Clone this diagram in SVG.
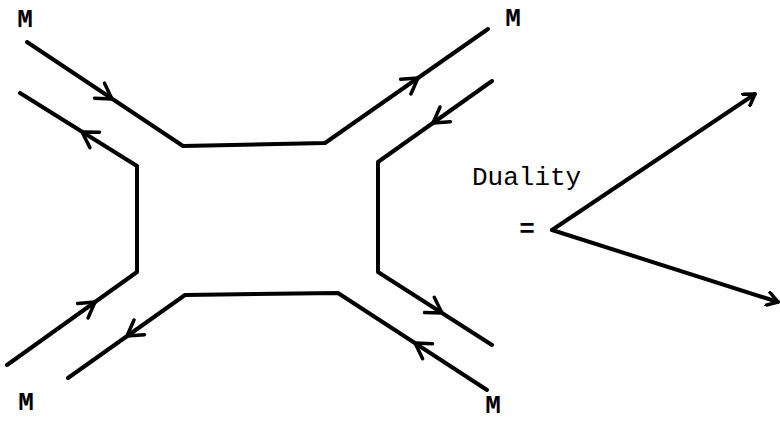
<svg xmlns="http://www.w3.org/2000/svg" width="780" height="422" viewBox="0 0 780 422">
<style>
.ln{fill:none;stroke:#000;stroke-width:4;stroke-linecap:round;stroke-linejoin:round}
.ch{fill:none;stroke:#000;stroke-width:3.5;stroke-linecap:round;stroke-linejoin:round}
.lbl{font-family:"Liberation Mono","DejaVu Sans Mono",monospace;font-size:26px;fill:#000}
.m{font-weight:bold;text-anchor:middle}
</style>
<defs>
<path id="chev" class="ch" d="M-15,-9 L0,0 L-15,9"/>
<marker id="open" viewBox="-12 -8 14 16" markerWidth="14" markerHeight="16" refX="0" refY="0" orient="auto" markerUnits="userSpaceOnUse">
<path d="M-11,-7 L0,0 L-11,7" fill="none" stroke="#000" stroke-width="3.5" stroke-linecap="round" stroke-linejoin="round"/>
</marker>
</defs>
<rect width="780" height="422" fill="#fff"/>
<g id="connectors">
<polyline class="ln" points="27,42 183,146 325,143 488,29"/>
<polyline class="ln" points="20,93 137,166 137,272 7,365"/>
<polyline class="ln" points="492,81 378,162 378,272 492,345"/>
<polyline class="ln" points="68,378 185,295 338,293 487,390"/>
<use href="#chev" transform="translate(112,99) rotate(33.7)"/>
<use href="#chev" transform="translate(418,78) rotate(-35)"/>
<use href="#chev" transform="translate(82,132) rotate(212)"/>
<use href="#chev" transform="translate(95,302) rotate(-35.6)"/>
<use href="#chev" transform="translate(433,123) rotate(144.6)"/>
<use href="#chev" transform="translate(442,313) rotate(32.6)"/>
<use href="#chev" transform="translate(127,336) rotate(144.6)"/>
<use href="#chev" transform="translate(415,343) rotate(213.1)"/>
<line class="ln" x1="552" y1="230" x2="755" y2="94" marker-end="url(#open)"/>
<line class="ln" x1="552" y1="230" x2="778" y2="302" marker-end="url(#open)"/>
</g>
<g id="label-m-tl"><text class="lbl m" x="25" y="27">M</text></g>
<g id="label-m-tr"><text class="lbl m" x="513" y="26">M</text></g>
<g id="label-m-bl"><text class="lbl m" x="26" y="410">M</text></g>
<g id="label-m-br"><text class="lbl m" x="493" y="413">M</text></g>
<g id="label-duality"><text class="lbl" x="472" y="185">Duality</text></g>
<g id="label-eq"><text class="lbl" x="527" y="237" text-anchor="middle" font-size="22" font-weight="bold">=</text></g>
</svg>
